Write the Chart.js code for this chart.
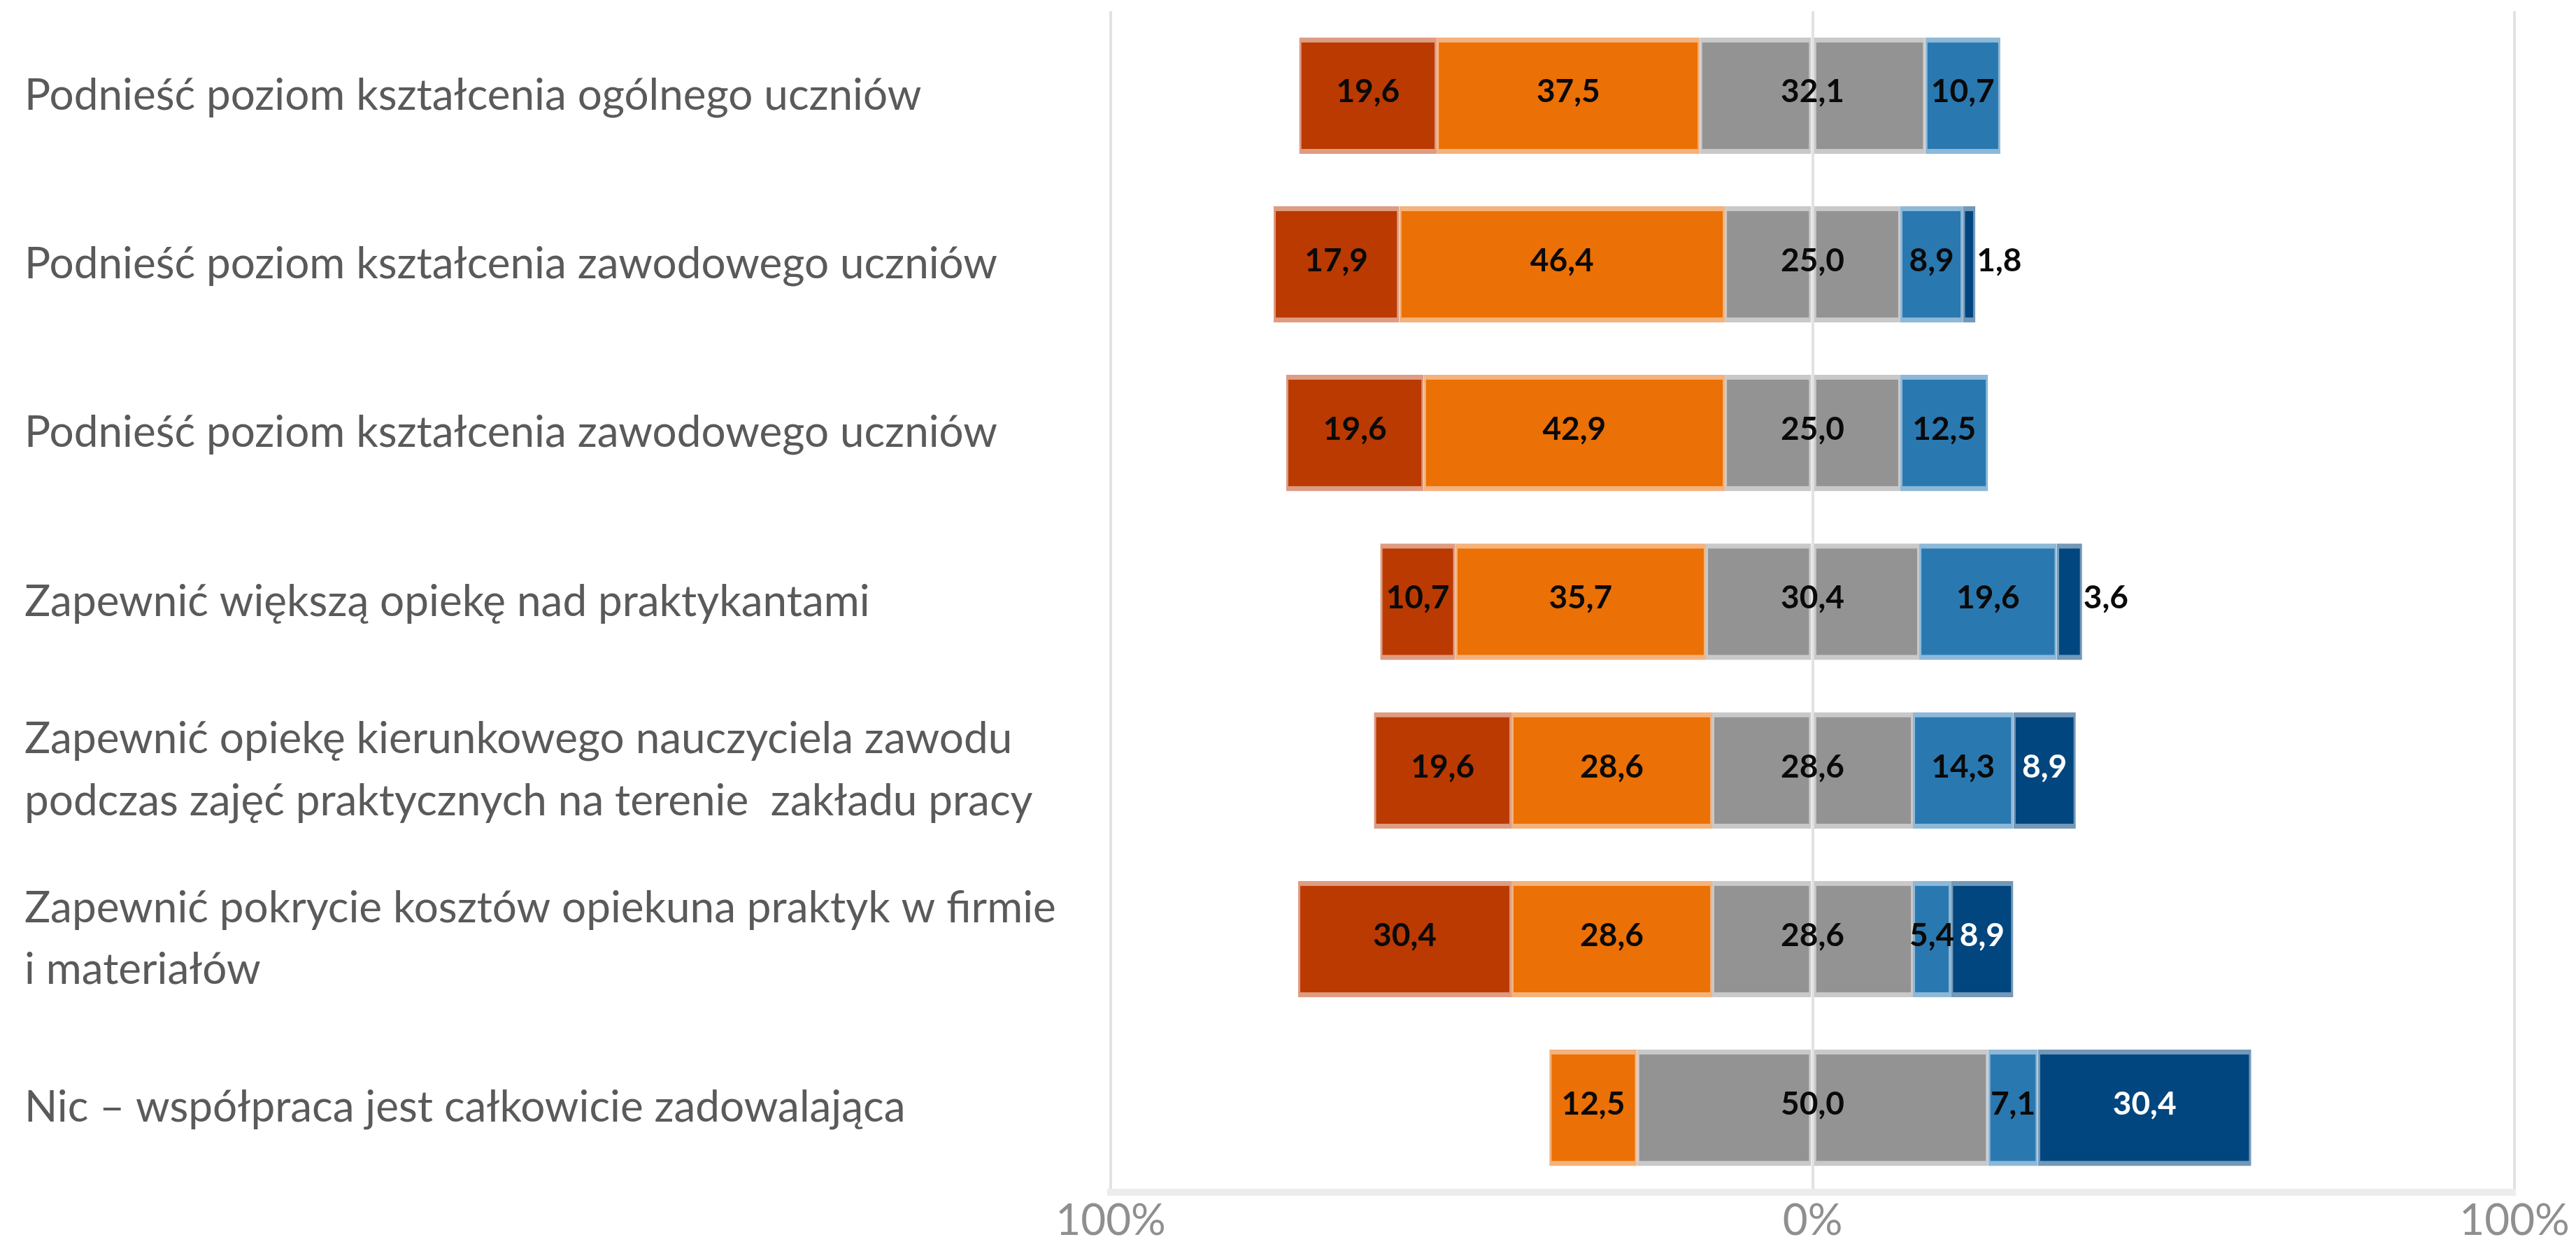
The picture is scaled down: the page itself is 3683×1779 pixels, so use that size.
<!DOCTYPE html>
<html>
<head>
<meta charset="utf-8">
<script src="https://cdn.jsdelivr.net/npm/chart.js@4.4.1/dist/chart.umd.min.js"></script>
<style>
html,body{margin:0;padding:0;background:#fff;}
canvas{display:block;}
</style>
</head>
<body>
<canvas id="c" width="3683" height="1779"></canvas>
<script>
const categories = [
  "Podnieść poziom kształcenia ogólnego uczniów",
  "Podnieść poziom kształcenia zawodowego uczniów",
  "Podnieść poziom kształcenia zawodowego uczniów",
  "Zapewnić większą opiekę nad praktykantami",
  ["Zapewnić opiekę kierunkowego nauczyciela zawodu", "podczas zajęć praktycznych na terenie  zakładu pracy"],
  ["Zapewnić pokrycie kosztów opiekuna praktyk w firmie", "i materiałów"],
  "Nic – współpraca jest całkowicie zadowalająca"
];
const veryLow  = [19.6, 17.9, 19.6, 10.7, 19.6, 30.4, 0];
const low      = [37.5, 46.4, 42.9, 35.7, 28.6, 28.6, 12.5];
const neutral  = [32.1, 25.0, 25.0, 30.4, 28.6, 28.6, 50.0];
const high     = [10.7, 8.9, 12.5, 19.6, 14.3, 5.4, 7.1];
const veryHigh = [0, 1.8, 0, 3.6, 8.9, 8.9, 30.4];
const tickValues = [-100, 0, 100];
const tickLabels = ["100%", "0%", "100%"];

const C = {
  red: '#BA3A02', redB: '#DE9C82',
  orange: '#EB7005', orangeB: '#F4B27C',
  gray: '#939393', grayB: '#C9C9C9',
  blue: '#2A78B0', blueB: '#8DB8D8',
  navy: '#02467F', navyB: '#7398B8'
};
const bw = {top: 7, bottom: 7, left: 3, right: 3};
const neg = a => a.map(v => -v);
const half = a => a.map(v => v / 2);

function ds(label, data, bg, border) {
  return {label, data, backgroundColor: bg, borderColor: border, borderWidth: bw,
          borderSkipped: false, stack: 's', barPercentage: 0.69, categoryPercentage: 1.0};
}

const datasets = [
  ds('neutral-', neg(half(neutral)), C.gray, C.grayB),
  ds('low', neg(low), C.orange, C.orangeB),
  ds('veryLow', neg(veryLow), C.red, C.redB),
  ds('neutral+', half(neutral), C.gray, C.grayB),
  ds('high', high, C.blue, C.blueB),
  ds('veryHigh', veryHigh, C.navy, C.navyB)
];

const fmt = v => v.toFixed(1).replace('.', ',');

const labelPlugin = {
  id: 'segLabels',
  afterDraw(chart) {
    const ctx = chart.ctx;
    ctx.save();
    ctx.font = 'bold 46px Lato';
    ctx.textBaseline = 'middle';
    const m = i => chart.getDatasetMeta(i).data;
    const put = (txt, x, y, color, align) => {
      ctx.fillStyle = color; ctx.textAlign = align; ctx.fillText(txt, x, y - 5);
    };
    for (let j = 0; j < categories.length; j++) {
      const y = m(0)[j].y;
      const segs = [[2, veryLow], [1, low], [4, high]];
      segs.forEach(([i, arr]) => {
        if (arr[j] > 0) {
          const el = m(i)[j];
          put(fmt(arr[j]), (el.x + el.base) / 2, y, '#0a0a0a', 'center');
        }
      });
      const gl = m(0)[j].x, gr = m(3)[j].x;
      put(fmt(neutral[j]), (gl + gr) / 2, y, '#0a0a0a', 'center');
      if (veryHigh[j] > 0) {
        const el = m(5)[j];
        if (veryHigh[j] < 5) put(fmt(veryHigh[j]), el.x + 2, y, '#0a0a0a', 'left');
        else put(fmt(veryHigh[j]), (el.x + el.base) / 2, y, '#ffffff', 'center');
      }
    }
    ctx.restore();
  }
};

new Chart(document.getElementById('c'), {
  type: 'bar',
  data: {labels: categories, datasets},
  options: {
    indexAxis: 'y',
    responsive: false,
    devicePixelRatio: 1,
    animation: false,
    layout: {padding: {left: 35, top: 16, right: 88, bottom: 0}},
    plugins: {legend: {display: false}, tooltip: {enabled: false}},
    scales: {
      x: {
        stacked: true, min: -100, max: 100, z: 1,
        afterBuildTicks: s => { s.ticks = tickValues.map(v => ({value: v})); },
        afterFit: s => { s.height = 74; },
        ticks: {
          callback: (v) => tickLabels[tickValues.indexOf(v)],
          color: '#8f8f8f', font: {family: 'Lato', size: 62}, padding: 4, maxRotation: 0
        },
        grid: {color: '#e2e2e2', lineWidth: 4, drawTicks: false},
        border: {display: true, color: '#ececec', width: 10}
      },
      y: {
        stacked: true,
        afterFit: s => { s.width = 1588 - 35; s.paddingTop = 0; s.paddingBottom = 0; },
        ticks: {
          crossAlign: 'far', color: '#5a5a5a',
          font: {family: 'Lato', size: 62, lineHeight: 1.43}
        },
        grid: {display: false},
        border: {display: false}
      }
    }
  },
  plugins: [labelPlugin]
});
</script>
</body>
</html>
